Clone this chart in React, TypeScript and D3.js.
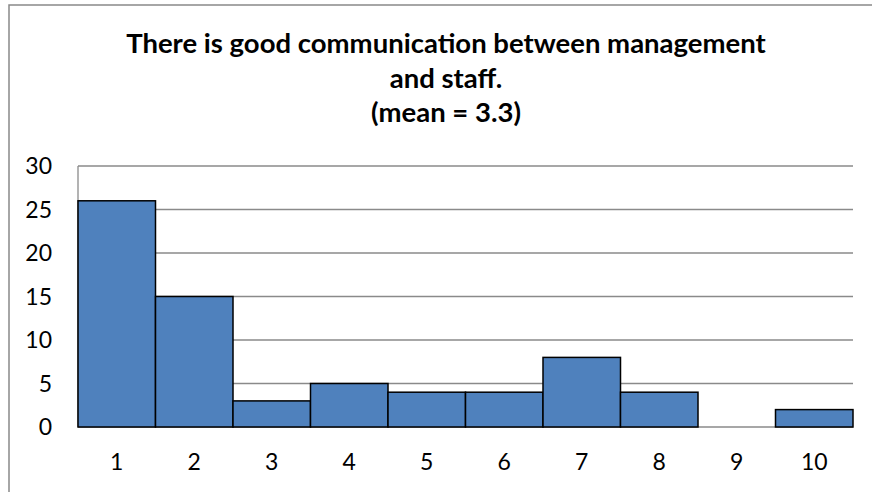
import React from "react";
import * as d3 from "d3";

const categories = ["1", "2", "3", "4", "5", "6", "7", "8", "9", "10"];
const values = [26, 15, 3, 5, 4, 4, 8, 4, 0, 2];
const yTicks = [0, 5, 10, 15, 20, 25, 30];
const titleLines = [
  "There is good communication between management",
  "and staff.",
  "(mean = 3.3)",
];

const W = 872;
const H = 492;
const plot = { left: 78, right: 853, top: 166, bottom: 427 };
const FONT = "Lato, 'Open Sans', sans-serif";

export default function App() {
  const x = d3
    .scaleBand<string>()
    .domain(categories)
    .range([plot.left, plot.right])
    .padding(0);
  const y = d3.scaleLinear().domain([0, 30]).range([plot.bottom, plot.top]);

  return (
    <svg
      width={W}
      height={H}
      style={{ position: "absolute", left: 0, top: 0, display: "block" }}
    >
      <rect x={0} y={0} width={W} height={H} fill="#fff" />
      <rect
        x={9}
        y={5}
        width={W + 20}
        height={H + 20}
        fill="none"
        stroke="#898989"
        strokeWidth={1.5}
      />
      {titleLines.map((t, i) => (
        <text
          key={i}
          x={446}
          y={53 + i * 34.5}
          textAnchor="middle"
          fontFamily={FONT}
          fontWeight="bold"
          fontSize={27.5}
          fill="#000"
        >
          {t}
        </text>
      ))}
      {yTicks.map((t) => (
        <g key={t}>
          <line
            x1={plot.left}
            x2={plot.right}
            y1={y(t)}
            y2={y(t)}
            stroke="#8a8a8a"
            strokeWidth={1.3}
          />
          <text
            x={52}
            y={y(t)}
            dy="0.36em"
            textAnchor="end"
            fontFamily={FONT}
            fontSize={23}
            fill="#000"
          >
            {t}
          </text>
        </g>
      ))}
      <line
        x1={plot.left}
        x2={plot.left}
        y1={plot.top}
        y2={plot.bottom}
        stroke="#8a8a8a"
        strokeWidth={1.3}
      />
      {categories.map((c, i) =>
        values[i] > 0 ? (
          <rect
            key={c}
            x={x(c)!}
            y={y(values[i])}
            width={x.bandwidth()}
            height={y(0) - y(values[i])}
            fill="#4F81BD"
            stroke="#000"
            strokeWidth={1.5}
          />
        ) : null
      )}
      {categories.map((c) => (
        <text
          key={c}
          x={x(c)! + x.bandwidth() / 2}
          y={470}
          textAnchor="middle"
          fontFamily={FONT}
          fontSize={23}
          fill="#000"
        >
          {c}
        </text>
      ))}
    </svg>
  );
}
